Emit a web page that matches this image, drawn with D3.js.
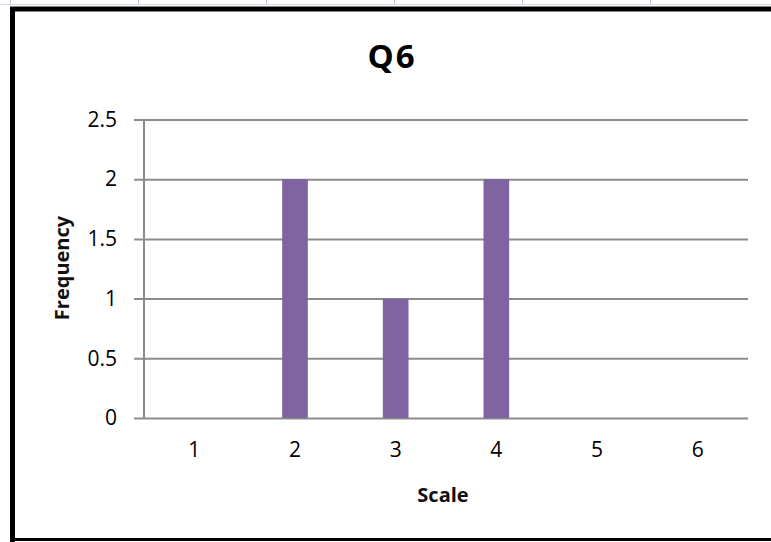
<!DOCTYPE html>
<html>
<head>
<meta charset="utf-8">
<script src="https://cdn.jsdelivr.net/npm/d3@7"></script>
<style>
  body { margin: 0; background: #fff; }
  text { font-family: "Open Sans", sans-serif; }
</style>
</head>
<body>
<script>

var categories = ["1", "2", "3", "4", "5", "6"];
var frequency = [0, 2, 1, 2, 0, 0];
var yTicks = [0, 0.5, 1, 1.5, 2, 2.5];

var W = 771, H = 542;
var plot = {left: 144, right: 748, top: 119.5, bottom: 418};

var svg = d3.select("body").append("svg")
    .attr("width", W)
    .attr("height", H);

// spreadsheet cell lines peeking above the frame
svg.append("line")
    .attr("x1", 0).attr("x2", W)
    .attr("y1", 4.5).attr("y2", 4.5)
    .attr("stroke", "#d4d8e0").attr("stroke-width", 1);
svg.selectAll(".cell")
    .data(d3.range(10, W, 128))
  .enter().append("line")
    .attr("x1", function(d) { return d + 0.5; })
    .attr("x2", function(d) { return d + 0.5; })
    .attr("y1", 0).attr("y2", 5)
    .attr("stroke", "#c8d0dc");

// chart frame (right side is cut off)
svg.append("path")
    .attr("d", "M12.5,542 V9 H" + W)
    .attr("fill", "none")
    .attr("stroke", "#000")
    .attr("stroke-width", 5);
svg.append("line")
    .attr("x1", 10).attr("x2", W)
    .attr("y1", 539.5).attr("y2", 539.5)
    .attr("stroke", "#000").attr("stroke-width", 3);

var x = d3.scaleBand()
    .domain(categories)
    .range([plot.left, plot.right])
    .paddingInner(0.745)
    .paddingOuter(0.3725);

var y = d3.scaleLinear()
    .domain([0, 2.5])
    .range([plot.bottom, plot.top]);

// gridlines + y axis
var yAxis = svg.append("g")
    .attr("transform", "translate(" + plot.left + ",0)")
    .call(d3.axisLeft(y)
        .tickValues(yTicks)
        .tickSize(-(plot.right - plot.left))
        .tickPadding(27)
        .tickFormat(d3.format("")));
yAxis.select(".domain").remove();
yAxis.selectAll(".tick line")
    .attr("x1", -10)
    .attr("stroke", "#8c8c8c")
    .attr("stroke-width", 2);
yAxis.selectAll(".tick text")
    .attr("font-size", "21px")
    .attr("fill", "#000");

svg.append("line")
    .attr("x1", plot.left).attr("x2", plot.left)
    .attr("y1", plot.top).attr("y2", plot.bottom)
    .attr("stroke", "#8c8c8c").attr("stroke-width", 2);

svg.selectAll(".bar")
    .data(frequency)
  .enter().append("rect")
    .attr("class", "bar")
    .attr("x", function(d, i) { return x(categories[i]); })
    .attr("y", function(d) { return y(d); })
    .attr("width", x.bandwidth())
    .attr("height", function(d) { return y(0) - y(d); })
    .attr("fill", "#8064a2");

var xAxis = svg.append("g")
    .attr("transform", "translate(0," + plot.bottom + ")")
    .call(d3.axisBottom(x).tickSize(0).tickPadding(24));
xAxis.select(".domain").remove();
xAxis.selectAll(".tick text")
    .attr("font-size", "21px")
    .attr("fill", "#000");

svg.append("text")
    .attr("x", 392)
    .attr("y", 68)
    .attr("text-anchor", "middle")
    .attr("font-size", "33px")
    .attr("font-weight", "bold")
    .attr("letter-spacing", "2px")
    .attr("fill", "#000")
    .text("Q6");

svg.append("text")
    .attr("x", 443)
    .attr("y", 502)
    .attr("text-anchor", "middle")
    .attr("font-size", "20px")
    .attr("font-weight", "bold")
    .attr("fill", "#111")
    .text("Scale");

svg.append("text")
    .attr("transform", "translate(69,268) rotate(-90)")
    .attr("text-anchor", "middle")
    .attr("font-size", "20px")
    .attr("font-weight", "bold")
    .attr("fill", "#111")
    .text("Frequency");

</script>
</body>
</html>
